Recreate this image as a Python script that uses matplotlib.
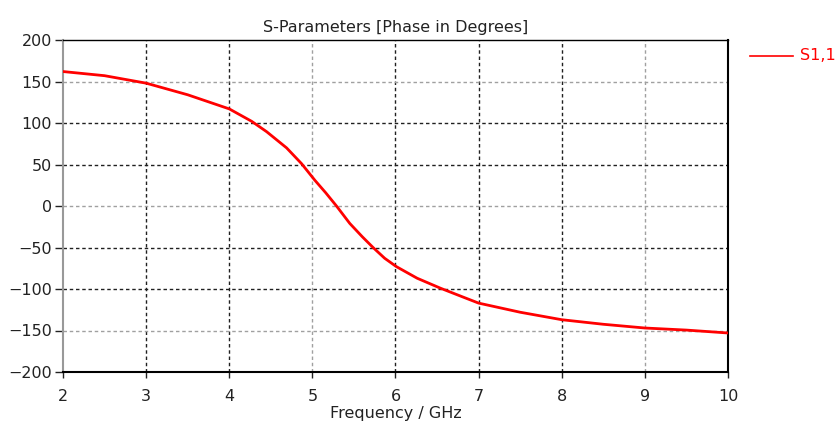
import matplotlib.pyplot as plt
import numpy as np

# S1,1 phase
freq_ghz = [2.0, 2.5, 3.0, 3.5, 4.0, 4.27, 4.45, 4.69, 4.87, 5.03, 5.16, 5.29,
            5.45, 5.6, 5.73, 5.87, 6.01, 6.26, 6.54, 6.82, 7.0, 7.5, 8.0, 8.5, 9.0, 9.5, 10.0]
phase_deg = [162, 157, 148, 134, 117, 102, 89.5, 70, 51, 31, 16, 0,
             -21, -37, -50, -63, -73, -87, -99, -110, -117, -128, -137, -142.5, -147, -149.5, -153]

x_ticks = [2, 3, 4, 5, 6, 7, 8, 9, 10]
y_ticks = [-200, -150, -100, -50, 0, 50, 100, 150, 200]
light_x = [5, 9]
light_y = [-150, 0, 150]

plt.rcParams['font.family'] = 'DejaVu Sans'
fig = plt.figure(figsize=(8.4, 4.32), dpi=100)
ax = fig.add_axes([63 / 840, 1 - 372 / 432, (728 - 63) / 840, (372 - 40) / 432])

# grid, dark and light lines as in the reference
for xv in x_ticks[1:-1]:
    c = '#a0a0a0' if xv in light_x else '#202020'
    ax.axvline(xv, color=c, lw=1.0, ls=(0, (2.5, 2)), zorder=1)
for yv in y_ticks[1:-1]:
    c = '#a0a0a0' if yv in light_y else '#202020'
    ax.axhline(yv, color=c, lw=1.0, ls=(0, (2.5, 2)), zorder=1)

ax.plot(freq_ghz, phase_deg, color='#ff0000', lw=2.0, zorder=3)

ax.set_xlim(2, 10)
ax.set_ylim(-200, 200)
ax.set_xticks(x_ticks)
ax.set_yticks(y_ticks)
ax.tick_params(axis='both', labelsize=11.5, colors='#222222', direction='out')
ax.tick_params(axis='x', length=4, width=1, pad=8)
ax.tick_params(axis='y', length=6, width=1, pad=2)

ax.spines['left'].set_color('#999999')
ax.spines['left'].set_linewidth(1.5)
ax.spines['bottom'].set_linewidth(1.5)
ax.spines['right'].set_linewidth(1.5)
ax.spines['top'].set_linewidth(1.0)

ax.set_title('S-Parameters [Phase in Degrees]', fontsize=11.5, color='#222222', pad=6)
ax.set_xlabel('Frequency / GHz', fontsize=11.5, color='#222222', labelpad=2)

# legend at right side
fig.lines.append(plt.Line2D([750 / 840, 793 / 840], [1 - 56 / 432] * 2,
                            color='#ff0000', lw=1.2, transform=fig.transFigure))
fig.text(800 / 840, 1 - 56 / 432, 'S1,1', color='#ff0000', fontsize=11.5,
         va='center', ha='left')

fig.savefig('out.png', dpi=100)
